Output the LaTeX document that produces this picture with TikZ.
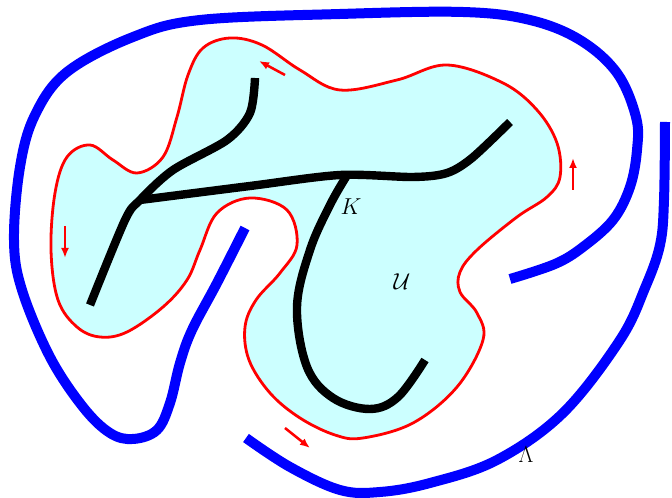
\documentclass[tikz,border=0pt]{standalone}
\usetikzlibrary{arrows.meta}
\definecolor{paleaqua}{RGB}{204,255,255}

\begin{document}
\begin{tikzpicture}[
    x=0.75pt, y=-0.75pt,
    region/.style={draw=red, line width=2.1pt, fill=paleaqua},
    wall/.style={draw=blue, line width=7.5pt},
    knot/.style={draw=black, line width=6.3pt},
    orient/.style={red, line width=1.9pt, -{Latex[length=7.5pt,width=6pt]}},
    lbl/.style={font=\LARGE, inner sep=0pt}
  ]
    \useasboundingbox (0,0) rectangle (672,498);
    % the open set U
    \path[region] plot[smooth cycle, tension=0.6] coordinates {
      (230,38) (262,45) (300,70) (340,90) (397,80) (447,65) (503,83) (537,110)
      (557,143) (560,177) (547,197) (517,217) (477,250) (460,272) (460,292)
      (477,313) (483,340) (457,387) (413,423) (363,438) (335,435) (300,418)
      (270,393) (249,360) (245,327) (256,300) (280,273) (297,245) (287,210)
      (250,198) (217,213) (200,250) (187,280) (163,307) (127,332) (100,337)
      (77,327) (58,300) (51,250) (55,193) (67,157) (90,145) (113,160) (137,173)
      (163,157) (177,117) (188,75) (203,48)};
    % the curve Lambda
    \draw[wall] plot[smooth, tension=0.6] coordinates {
      (245,228) (217,283) (192,330) (180,363) (170,403) (157,430) (133,439)
      (110,433) (83,407) (50,357) (22,290) (14,240) (20,167) (35,115) (67,72)
      (133,37) (200,20) (340,14) (463,12) (530,20) (580,40) (617,73) (636,117)
      (637,150) (630,187) (613,220) (583,247) (555,264) (510,279)};
    \draw[wall] plot[smooth, tension=0.6] coordinates {
      (665,122) (664,200) (660,245) (645,288) (620,340) (563,413) (497,460)
      (430,483) (380,492) (340,490) (290,467) (246,438)};
    % the set K
    \draw[knot] plot[smooth, tension=0.5] coordinates {
      (255,78) (250,113) (227,140) (173,170) (140,200) (125,220) (90,305)};
    \draw[knot] plot[smooth, tension=0.5] coordinates {
      (140,200) (250,186) (340,175) (413,177) (447,173) (472,158) (510,122)};
    \draw[knot] plot[smooth, tension=0.6] coordinates {
      (346,177) (330,205) (310,250) (297,307) (307,367) (333,398) (370,409)
      (398,397) (425,360)};
    % orientation of the boundary
    \draw[orient] (285,75) -- (259,61);
    \draw[orient] (65,226) -- (65,258);
    \draw[orient] (573,190) -- (573,158);
    \draw[orient] (285,428) -- (310,448);
    % labels
    \node[lbl] (labK) at (351,207) {$K$};
    \node[lbl] (labU) at (402,282) {$\mathcal{U}$};
    \node[lbl] (labL) at (526,455) {$\Lambda$};
\end{tikzpicture}
\end{document}
